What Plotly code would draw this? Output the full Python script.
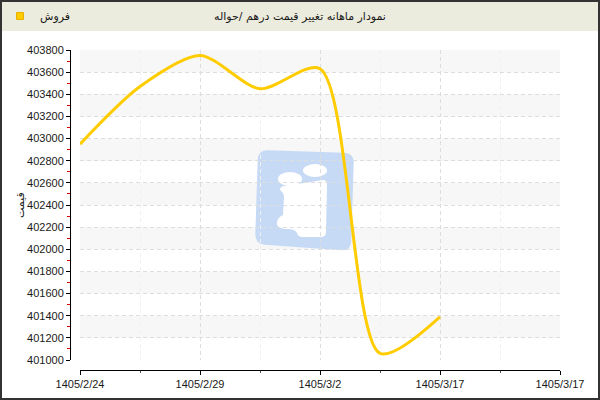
import plotly.graph_objects as go

# ---- data ----
x_pos = [0, 0.5, 1, 1.5, 2, 2.5, 3]
sales = [402950, 403470, 403750, 403450, 403630, 401060, 401390]
x_tick_vals = [0, 1, 2, 3, 4]
x_tick_text = ["1405/2/24", "1405/2/29", "1405/3/2", "1405/3/17", "1405/3/17"]
y_tick_vals = list(range(401000, 403801, 200))
series_name = "فروش"
chart_title = "نمودار ماهانه تغییر قیمت درهم /حواله"
y_title = "قیمت"

W, H = 600, 400
ML, MR, MT, MB = 70, 40, 50, 30
PW, PH = W - ML - MR, H - MT - MB
Y_TOP_PX, Y_BOT_PX = 50, 360


def px(x):
    return (x - ML) / PW


def py(y):
    return (H - MB - y) / PH


def val_to_py(v):
    lo, hi = y_tick_vals[0], y_tick_vals[-1]
    pix = Y_BOT_PX - (v - lo) / (hi - lo) * (Y_BOT_PX - Y_TOP_PX)
    return py(pix)


def P(x, y):
    return f"{px(x):.5f},{py(y):.5f}"


def rounded_poly(pts, r):
    n = len(pts)
    segs = []

    def towards(a, b, d):
        dx, dy = b[0] - a[0], b[1] - a[1]
        L = (dx * dx + dy * dy) ** 0.5
        return (a[0] + dx / L * d, a[1] + dy / L * d)

    for i in range(n):
        p0 = pts[i - 1]
        p1 = pts[i]
        p2 = pts[(i + 1) % n]
        segs.append((towards(p1, p0, r), p1, towards(p1, p2, r)))
    d = "M " + P(*segs[0][0])
    for i, (a, c, b) in enumerate(segs):
        if i > 0:
            d += " L " + P(*a)
        d += " Q " + P(*c) + " " + P(*b)
    d += " Z"
    return d


fig = go.Figure()

fig.add_trace(go.Scatter(
    x=x_pos, y=sales, mode="lines",
    line=dict(color="#FFCC00", width=3, shape="spline", smoothing=0.8),
    showlegend=False, hoverinfo="skip",
))
fig.add_trace(go.Scatter(
    x=[None], y=[None], mode="markers", name=series_name,
    marker=dict(symbol="square", size=7, color="#FFCC00",
                line=dict(color="#E8B000", width=1)),
    showlegend=True,
))

shapes = []
# title bar
shapes.append(dict(type="rect", xref="paper", yref="paper",
                   x0=px(0), x1=px(600), y0=py(31), y1=py(0),
                   fillcolor="#ECECDE", line=dict(width=0), layer="below"))
# alternating bands
for i in range(len(y_tick_vals) - 1):
    if (len(y_tick_vals) - 2 - i) % 2 == 0:
        shapes.append(dict(type="rect", xref="paper", yref="paper",
                           x0=px(80), x1=px(560),
                           y0=val_to_py(y_tick_vals[i]), y1=val_to_py(y_tick_vals[i + 1]),
                           fillcolor="#F7F7F7", line=dict(width=0), layer="below"))
# watermark logo
shapes.append(dict(type="path", xref="paper", yref="paper",
                   path=rounded_poly([(258, 150), (354, 153), (351, 251), (255, 244)], 10),
                   fillcolor="rgb(198,218,246)", line=dict(width=0), layer="below"))
shapes.append(dict(type="circle", xref="paper", yref="paper",
                   x0=px(278), x1=px(302), y0=py(186), y1=py(172),
                   fillcolor="white", line=dict(width=0), layer="below"))
shapes.append(dict(type="circle", xref="paper", yref="paper",
                   x0=px(303), x1=px(327), y0=py(177), y1=py(164),
                   fillcolor="white", line=dict(width=0), layer="below"))
body = ("M " + P(280, 190) + " Q " + P(280, 186) + " " + P(285, 186) +
        " L " + P(323, 180) + " Q " + P(327, 180) + " " + P(327, 184) +
        " L " + P(326, 232) + " Q " + P(326, 237) + " " + P(321, 237) +
        " L " + P(302, 237) + " Q " + P(298, 237) + " " + P(297, 233) +
        " Q " + P(295, 229) + " " + P(288, 229) +
        " Q " + P(276, 229) + " " + P(277, 222) +
        " Q " + P(278, 217) + " " + P(283, 215) +
        " L " + P(284, 197) + " Q " + P(284, 193) + " " + P(280, 190) + " Z")
shapes.append(dict(type="path", xref="paper", yref="paper", path=body,
                   fillcolor="white", line=dict(width=0), layer="below"))
# outer border
shapes.append(dict(type="rect", xref="paper", yref="paper",
                   x0=px(1), x1=px(599), y0=py(399), y1=py(1),
                   line=dict(color="#333333", width=2), fillcolor="rgba(0,0,0,0)",
                   layer="above"))

num_font = dict(family="Liberation Sans, Arial, sans-serif", size=11, color="#1a1a1a")

fig.update_layout(
    width=W, height=H,
    margin=dict(l=ML, r=MR, t=MT, b=MB, pad=0, autoexpand=False),
    paper_bgcolor="white", plot_bgcolor="rgba(0,0,0,0)",
    font=dict(family="DejaVu Sans, sans-serif", size=11, color="#1a1a1a"),
    showlegend=True,
    title=dict(text=chart_title, xref="container", yref="container",
               x=0.5, xanchor="center", y=1 - 16 / H, yanchor="middle",
               font=dict(family="DejaVu Sans, sans-serif", size=11, color="#1a1a1a")),
    legend=dict(xref="container", yref="container", x=0.0, y=1 - 16 / H,
                xanchor="left", yanchor="middle", bgcolor="rgba(0,0,0,0)",
                borderwidth=0, itemwidth=30,
                font=dict(family="DejaVu Sans, sans-serif", size=11, color="#1a1a1a")),
    shapes=shapes,
    annotations=[dict(text=y_title, xref="paper", yref="paper",
                      x=px(20), y=py(205), xanchor="center", yanchor="middle",
                      textangle=-90, showarrow=False,
                      font=dict(family="DejaVu Sans, sans-serif", size=11, color="#1a1a1a"))],
    xaxis=dict(
        domain=[px(80), px(560)], range=[x_tick_vals[0], x_tick_vals[-1]],
        anchor="free", position=0,
        tickmode="array", tickvals=x_tick_vals, ticktext=x_tick_text,
        tickfont=num_font,
        showline=True, linecolor="black", linewidth=1,
        ticks="outside", ticklen=4, tickcolor="black", tickwidth=1,
        showgrid=True, gridcolor="#DDDDDD", griddash="4px,3px", gridwidth=1,
        minor=dict(tickmode="array", tickvals=[0.5, 1.5, 2.5, 3.5],
                   ticks="outside", ticklen=2, tickcolor="#555555",
                   showgrid=True, gridcolor="#F0F0F0", gridwidth=1),
        zeroline=False, fixedrange=True,
    ),
    yaxis=dict(
        domain=[py(360), py(50)], range=[y_tick_vals[0], y_tick_vals[-1]],
        anchor="free", position=0,
        tickmode="array", tickvals=y_tick_vals,
        tickfont=num_font, tickformat="d",
        showline=True, linecolor="black", linewidth=1,
        ticks="outside", ticklen=4, tickcolor="black", tickwidth=1,
        showgrid=True, gridcolor="#DDDDDD", griddash="4px,3px", gridwidth=1,
        minor=dict(dtick=100, ticks="outside", ticklen=3, tickcolor="#E00000",
                   showgrid=False),
        zeroline=False, fixedrange=True,
    ),
)

fig.write_html("out.html", config={"displayModeBar": False},
               post_script="document.body.style.margin='0';document.body.style.overflow='hidden';")
